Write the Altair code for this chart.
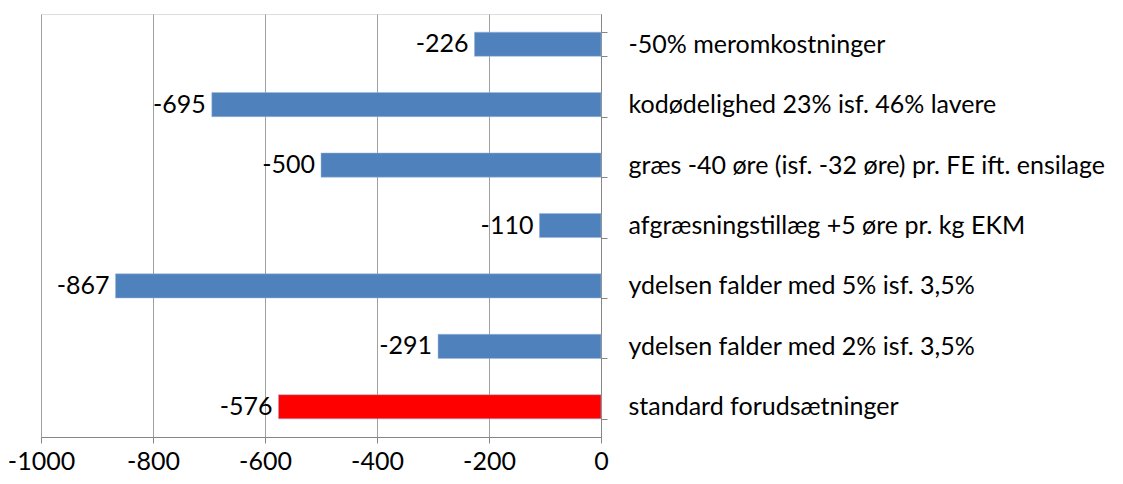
import altair as alt
import pandas as pd

categories = [
    "-50% meromkostninger",
    "kodødelighed 23% isf. 46% lavere",
    "græs -40 øre (isf. -32 øre) pr. FE ift. ensilage",
    "afgræsningstillæg +5 øre pr. kg EKM",
    "ydelsen falder med 5% isf. 3,5%",
    "ydelsen falder med 2% isf. 3,5%",
    "standard forudsætninger",
]
values = [-226, -695, -500, -110, -867, -291, -576]
groups = ["scenarie"] * 6 + ["standard"]

df = pd.DataFrame({
    "kategori": categories,
    "værdi": values,
    "gruppe": groups,
    "etiket": [str(v) for v in values],
})

FONT = "Lato"
FS = 25
GRID = "#A0A0A0"

y_enc = alt.Y(
    "kategori:N",
    sort=categories,
    title=None,
    scale=alt.Scale(paddingInner=0.6, paddingOuter=0.3),
    axis=alt.Axis(
        orient="right",
        domainColor="#868686",
        tickColor="#868686",
        tickSize=6,
        tickBand="extent",
        labelAlign="left",
        labelPadding=21,
        labelFont=FONT,
        labelFontSize=FS,
        labelColor="#000000",
        labelLimit=700,
        grid=False,
    ),
)

x_enc = alt.X(
    "værdi:Q",
    title=None,
    scale=alt.Scale(domain=[-1000, 0], nice=False),
    axis=alt.Axis(
        values=[-1000, -800, -600, -400, -200, 0],
        grid=True,
        gridColor=GRID,
        gridWidth=1,
        domainColor="#868686",
        tickColor="#868686",
        tickSize=6,
        labelPadding=6,
        labelFlush=False,
        labelOverlap=False,
        labelFont=FONT,
        labelFontSize=FS,
        labelColor="#000000",
        labelExpr="datum.value + ''",
    ),
)

bars = alt.Chart(df).mark_bar(stroke="#9DB8DA", strokeWidth=0.5).encode(
    x=x_enc,
    y=y_enc,
    color=alt.Color(
        "gruppe:N",
        scale=alt.Scale(domain=["scenarie", "standard"], range=["#4F81BD", "#FF0000"]),
        legend=None,
    ),
)

labels = alt.Chart(df).mark_text(
    align="right", baseline="middle", dx=-6, font=FONT, fontSize=FS, color="#000000"
).encode(
    x="værdi:Q",
    y=alt.Y("kategori:N", sort=categories),
    text="etiket:N",
)

chart = (
    alt.layer(bars, labels)
    .properties(
        width=560,
        height=423,
        autosize=alt.AutoSizeParams(type="none"),
        padding={"left": 33, "top": 6, "right": 514, "bottom": 39},
    )
    .configure_view(stroke=None)
    .configure(background="white")
)

chart.save("out.html", embed_options={"renderer": "svg", "actions": False})
